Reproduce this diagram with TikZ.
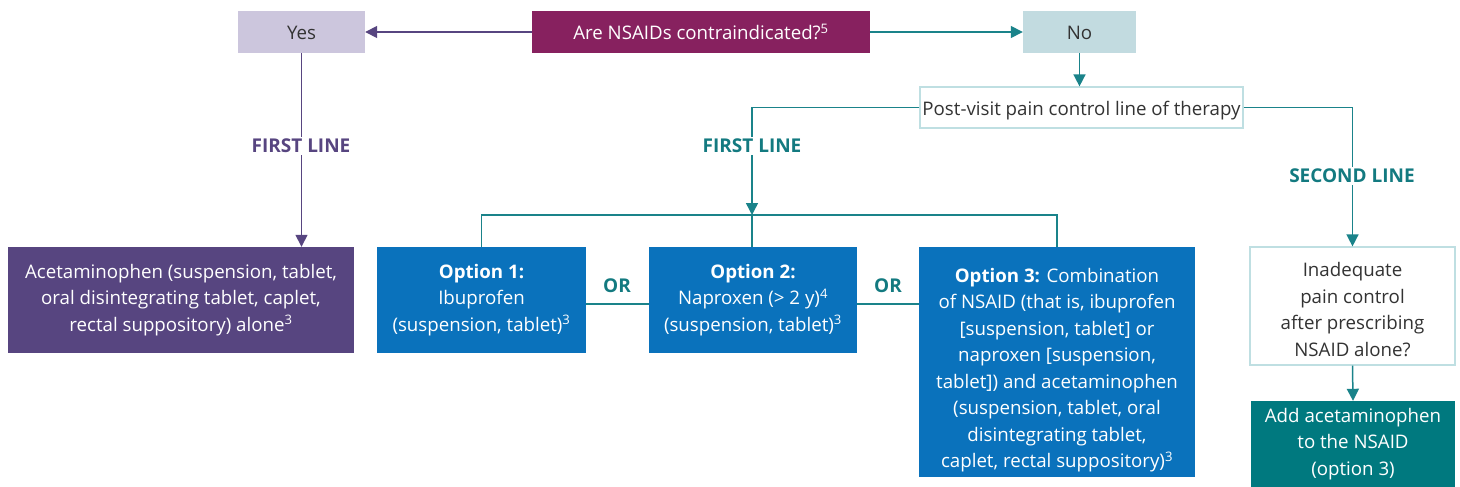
\documentclass[tikz,border=0pt]{standalone}
\usepackage{fontspec}
\setmainfont{Open Sans}
\usetikzlibrary{arrows.meta}
\definecolor{qfill}{HTML}{87215F}
\definecolor{yesfill}{HTML}{CCC6DD}
\definecolor{nofill}{HTML}{C2DBE0}
\definecolor{purp}{HTML}{574580}
\definecolor{optblue}{HTML}{0A72BC}
\definecolor{tealbox}{HTML}{00797F}
\definecolor{tealline}{HTML}{1A838A}
\definecolor{tealtext}{HTML}{137A80}
\definecolor{lightb}{HTML}{BFDFE2}
\definecolor{darktext}{HTML}{333333}
\newcommand{\topstrut}[1]{\rule{0pt}{#1}}
\tikzset{
  box/.style={rectangle, inner sep=0pt, align=center, font=\fontsize{18.7}{26.5}\selectfont,
    execute at begin node={\rule{0pt}{20.5pt}}, execute at end node={\rule[-5pt]{0pt}{0pt}}},
  fillbox/.style={box, text=white},
  lightbox/.style={box, draw=lightb, line width=1.2pt, fill=white, text=darktext},
  lbl/.style={fill=white, inner sep=2pt, font=\bfseries\fontsize{19}{22}\selectfont},
  tline/.style={draw=tealline, line width=1.5pt},
  pline/.style={draw=purp, line width=1.5pt},
  tip/.style={-{Triangle[length=12pt,width=12pt]}},
}
\begin{document}
\begin{tikzpicture}[x=1pt,y=-1pt]
\useasboundingbox (0,0) rectangle (1460,487);
% top row
\node[box, fill=yesfill, text=darktext, minimum width=127pt, minimum height=42pt] (yes) at (301.5,32) {Yes};
\node[fillbox, fill=qfill, minimum width=338pt, minimum height=42pt] (q) at (701,32) {Are NSAIDs contraindicated?\textsuperscript{5}};
\node[box, fill=nofill, text=darktext, minimum width=113pt, minimum height=42pt] (no) at (1079.5,32) {No};
\node[lightbox, minimum width=323pt, minimum height=41pt] (post) at (1081.5,107.5) {Post-visit pain control line of therapy};
% bottom row
\node[fillbox, fill=purp, minimum width=346pt, minimum height=106pt] (acet) at (181,300) {Acetaminophen (suspension, tablet,\\ oral disintegrating tablet, caplet,\\ rectal suppository) alone\textsuperscript{3}};
\node[fillbox, fill=optblue, minimum width=209pt, minimum height=106pt] (o1) at (481.5,300) {\textbf{Option 1:}\\ Ibuprofen\\ (suspension, tablet)\textsuperscript{3}};
\node[fillbox, fill=optblue, minimum width=208pt, minimum height=106pt] (o2) at (753,300) {\textbf{Option 2:}\\ Naproxen (> 2 y)\textsuperscript{4}\\ (suspension, tablet)\textsuperscript{3}};
\node[fillbox, fill=optblue, minimum width=276pt, minimum height=230pt] (o3) at (1057,362) {\topstrut{31pt}\textbf{Option 3:} Combination\\ of NSAID (that is, ibuprofen\\ {[}suspension, tablet] or\\ naproxen [suspension,\\ tablet]) and acetaminophen\\ (suspension, tablet, oral\\ disintegrating tablet,\\ caplet, rectal suppository)\textsuperscript{3}};
\node[lightbox, minimum width=205pt, minimum height=118pt] (inad) at (1352.5,306) {\topstrut{26pt}Inadequate\\ pain control\\ after prescribing\\ NSAID alone?};
\node[fillbox, fill=tealbox, minimum width=204pt, minimum height=86pt] (add) at (1353,444) {Add acetaminophen\\ to the NSAID\\ (option 3)};
\coordinate (j) at (752,215);
% connectors
\draw[pline, tip] (q.west) -- (yes.east);
\draw[tline, tip] (q.east) -- (no.west);
\draw[tline, tip] (no.south) -- (no.south |- post.north);
\draw[pline, tip] (yes.south) -- (yes.south |- acet.north);
\draw[tline, tip] (post.west) -| (j);
\draw[tline] (o1.north) |- (o3.north |- j) -- (o3.north);
\draw[tline] (j) -- (j |- o2.north);
\draw[tline] ([yshift=-4pt]o1.east) -- ([yshift=-4pt]o2.west);
\draw[tline] ([yshift=-4pt]o2.east) -- ([yshift=-4pt]o2.east -| o3.west);
\draw[tline, tip] (post.east) -| (inad.north);
\draw[tline, tip] (inad.south) -- (add.north);
% labels
\node[lbl, text=purp] (fl1) at (301,146) {FIRST LINE};
\node[lbl, text=tealtext] (fl2) at (752,146) {FIRST LINE};
\node[lbl, text=tealtext] (sl) at (1352,176) {SECOND LINE};
\node[lbl, text=tealtext, fill=none] (or1) at (617,286) {OR};
\node[lbl, text=tealtext, fill=none] (or2) at (888,286) {OR};
\end{tikzpicture}
\end{document}
